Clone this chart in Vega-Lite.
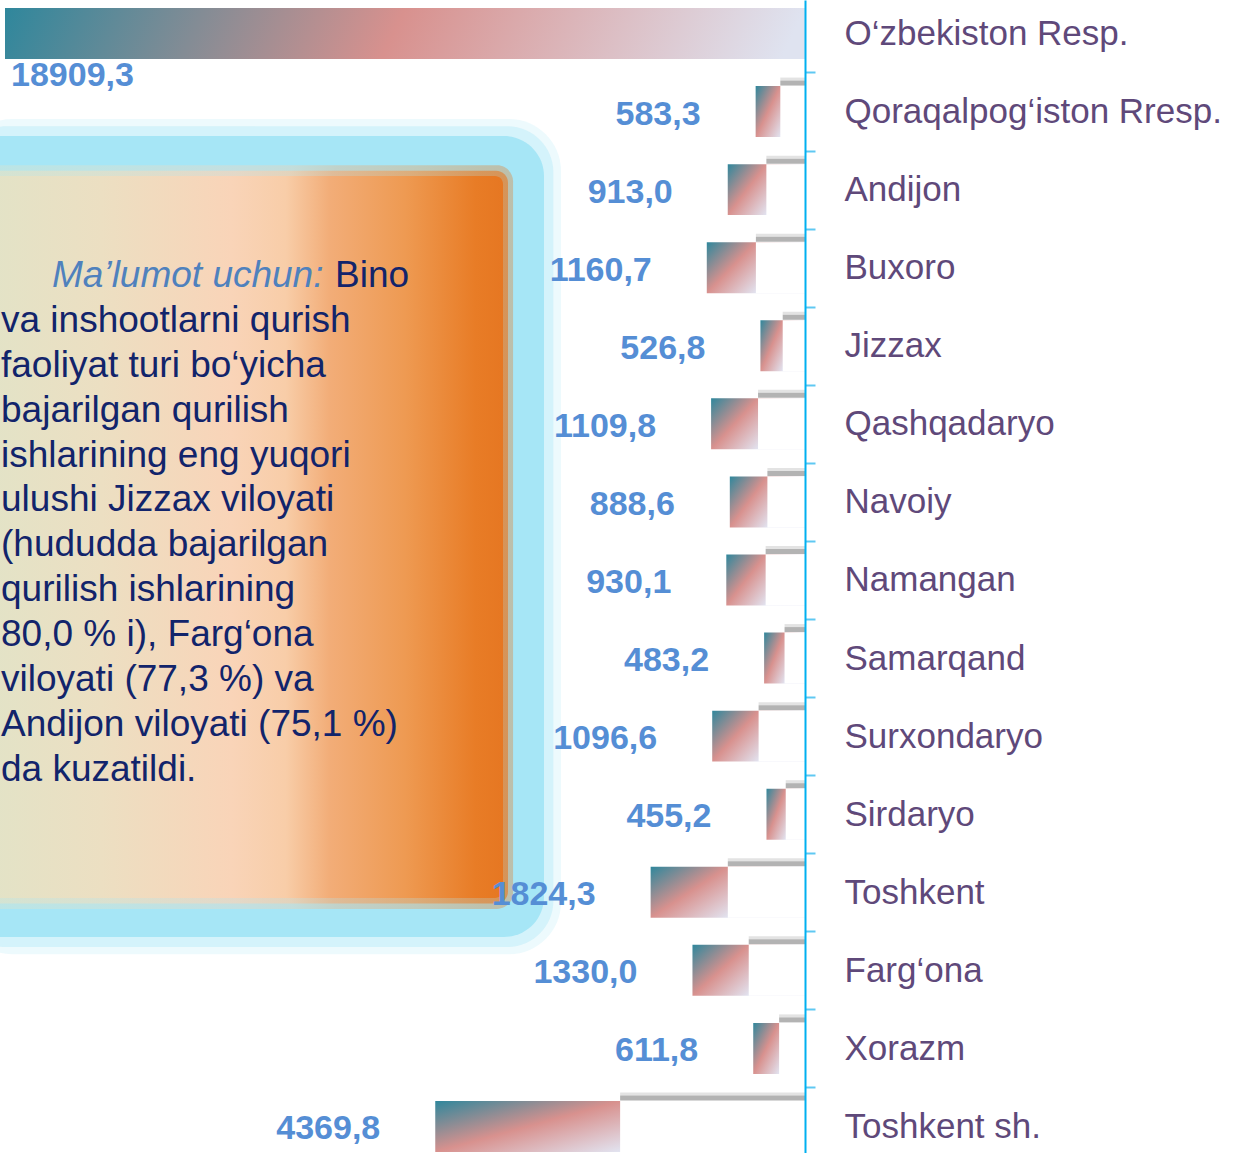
{
  "$schema": "https://vega.github.io/schema/vega-lite/v6.json",
  "width": 800,
  "height": 1153,
  "autosize": "none",
  "padding": {"left": 5, "right": 430, "top": 0, "bottom": 0},
  "background": "white",
  "config": {
    "view": {"stroke": null},
    "font": "Liberation Sans",
    "locale": {"number": {"decimal": ",", "thousands": " ", "grouping": [3], "currency": ["", ""]}}
  },
  "data": {
    "values": [
      {"region": "O‘zbekiston Resp.", "value": 18909.3, "level": "country"},
      {"region": "Qoraqalpog‘iston Rresp.", "value": 583.3, "level": "region"},
      {"region": "Andijon", "value": 913.0, "level": "region"},
      {"region": "Buxoro", "value": 1160.7, "level": "region"},
      {"region": "Jizzax", "value": 526.8, "level": "region"},
      {"region": "Qashqadaryo", "value": 1109.8, "level": "region"},
      {"region": "Navoiy", "value": 888.6, "level": "region"},
      {"region": "Namangan", "value": 930.1, "level": "region"},
      {"region": "Samarqand", "value": 483.2, "level": "region"},
      {"region": "Surxondaryo", "value": 1096.6, "level": "region"},
      {"region": "Sirdaryo", "value": 455.2, "level": "region"},
      {"region": "Toshkent", "value": 1824.3, "level": "region"},
      {"region": "Farg‘ona", "value": 1330.0, "level": "region"},
      {"region": "Xorazm", "value": 611.8, "level": "region"},
      {"region": "Toshkent sh.", "value": 4369.8, "level": "region"}
    ]
  },
  "layer": [
    {
      "layer": [
        {
          "data": {"values": [{}]},
          "mark": {"type": "rect", "fill": "#a6e6f6", "opacity": 0.2, "cornerRadius": 52},
          "encoding": {
            "x": {"datum": 19973, "type": "quantitative", "scale": {"domain": [0, 18909.3], "reverse": true, "nice": false, "zero": false}, "axis": null},
            "x2": {"datum": 5767},
            "y": {"datum": -3.45, "type": "quantitative", "scale": {"domain": [-6.1024, 19.577], "reverse": true, "nice": false, "zero": false}, "axis": null},
            "y2": {"datum": 15.15}
          }
        },
        {
          "data": {"values": [{}]},
          "mark": {"type": "rect", "fill": "#a6e6f6", "opacity": 0.35, "cornerRadius": 46},
          "encoding": {
            "x": {"datum": 19973, "type": "quantitative", "axis": null},
            "x2": {"datum": 5948},
            "y": {"datum": -3.29, "type": "quantitative", "axis": null},
            "y2": {"datum": 14.99}
          }
        },
        {
          "data": {"values": [{}]},
          "mark": {"type": "rect", "fill": "#a6e6f6", "opacity": 1, "cornerRadius": 40},
          "encoding": {
            "x": {"datum": 19973, "type": "quantitative", "axis": null},
            "x2": {"datum": 6169.2},
            "y": {"datum": -3.073, "type": "quantitative", "axis": null},
            "y2": {"datum": 14.766}
          }
        },
        {
          "data": {"values": [{}]},
          "mark": {
            "type": "rect", "opacity": 0.35, "cornerRadius": 16,
            "fill": {"gradient": "linear", "x1": 0, "y1": 0, "x2": 1, "y2": 0, "stops": [
              {"offset": 0, "color": "#e0e4c8"}, {"offset": 0.26, "color": "#ecdfc2"}, {"offset": 0.5, "color": "#f9d4b8"},
              {"offset": 0.6, "color": "#f8cda8"}, {"offset": 0.68, "color": "#f2ad78"}, {"offset": 0.82, "color": "#ee9a52"},
              {"offset": 0.95, "color": "#e87c26"}, {"offset": 1, "color": "#e67722"}]}
          },
          "encoding": {
            "x": {"datum": 19973, "type": "quantitative", "axis": null},
            "x2": {"datum": 6900},
            "y": {"datum": -2.42, "type": "quantitative", "axis": null},
            "y2": {"datum": 14.14}
          }
        },
        {
          "data": {"values": [{}]},
          "mark": {
            "type": "rect", "opacity": 0.6, "cornerRadius": 12,
            "fill": {"gradient": "linear", "x1": 0, "y1": 0, "x2": 1, "y2": 0, "stops": [
              {"offset": 0, "color": "#e0e4c8"}, {"offset": 0.26, "color": "#ecdfc2"}, {"offset": 0.5, "color": "#f9d4b8"},
              {"offset": 0.6, "color": "#f8cda8"}, {"offset": 0.68, "color": "#f2ad78"}, {"offset": 0.82, "color": "#ee9a52"},
              {"offset": 0.95, "color": "#e87c26"}, {"offset": 1, "color": "#e67722"}]}
          },
          "encoding": {
            "x": {"datum": 19973, "type": "quantitative", "axis": null},
            "x2": {"datum": 7020},
            "y": {"datum": -2.3, "type": "quantitative", "axis": null},
            "y2": {"datum": 14.02}
          }
        },
        {
          "data": {"values": [{}]},
          "mark": {
            "type": "rect", "cornerRadius": 8,
            "fill": {"gradient": "linear", "x1": 0, "y1": 0, "x2": 1, "y2": 0, "stops": [
              {"offset": 0, "color": "#e0e4c8"}, {"offset": 0.26, "color": "#ecdfc2"}, {"offset": 0.5, "color": "#f9d4b8"},
              {"offset": 0.6, "color": "#f8cda8"}, {"offset": 0.68, "color": "#f2ad78"}, {"offset": 0.82, "color": "#ee9a52"},
              {"offset": 0.95, "color": "#e87c26"}, {"offset": 1, "color": "#e67722"}]}
          },
          "encoding": {
            "x": {"datum": 19973, "type": "quantitative", "axis": null},
            "x2": {"datum": 7138.3},
            "y": {"datum": -2.183, "type": "quantitative", "axis": null},
            "y2": {"datum": 13.898}
          }
        },
        {
          "data": {"values": [{}]},
          "mark": {"type": "text", "text": "Ma’lumot uchun:", "align": "left", "baseline": "middle", "fontSize": 37, "fontStyle": "italic", "color": "#4f81bd", "font": "Liberation Sans"},
          "encoding": {
            "x": {"datum": 17798, "type": "quantitative", "axis": null},
            "y": {"datum": 0.04, "type": "quantitative", "axis": null}
          }
        },
        {
          "data": {"values": [{}]},
          "mark": {"type": "text", "text": "Bino", "align": "left", "baseline": "middle", "fontSize": 37, "color": "#12246b", "font": "Liberation Sans"},
          "encoding": {
            "x": {"datum": 11109, "type": "quantitative", "axis": null},
            "y": {"datum": 0.04, "type": "quantitative", "axis": null}
          }
        },
        {
          "data": {"values": [
            {"k": 1, "t": "va inshootlarni qurish"},
            {"k": 2, "t": "faoliyat turi bo‘yicha"},
            {"k": 3, "t": "bajarilgan qurilish"},
            {"k": 4, "t": "ishlarining eng yuqori"},
            {"k": 5, "t": "ulushi Jizzax viloyati"},
            {"k": 6, "t": "(hududda bajarilgan"},
            {"k": 7, "t": "qurilish ishlarining"},
            {"k": 8, "t": "80,0 % i), Farg‘ona"},
            {"k": 9, "t": "viloyati (77,3 %) va"},
            {"k": 10, "t": "Andijon viloyati (75,1 %)"},
            {"k": 11, "t": "da kuzatildi."}
          ]},
          "mark": {"type": "text", "align": "left", "baseline": "middle", "dy": 2, "fontSize": 37, "color": "#12246b", "font": "Liberation Sans"},
          "encoding": {
            "x": {"datum": 19003.8, "type": "quantitative", "axis": null},
            "y": {"field": "k", "type": "quantitative", "axis": null},
            "text": {"field": "t", "type": "nominal"}
          }
        }
      ]
    },
    {
      "transform": [{"filter": "datum.level === 'region'"}],
      "encoding": {
        "y": {"field": "region", "type": "nominal",
          "scale": {"type": "band", "domain": ["O‘zbekiston Resp.", "Qoraqalpog‘iston Rresp.", "Andijon", "Buxoro", "Jizzax", "Qashqadaryo", "Navoiy", "Namangan", "Samarqand", "Surxondaryo", "Sirdaryo", "Toshkent", "Farg‘ona", "Xorazm", "Toshkent sh."], "paddingInner": 0.347, "paddingOuter": 0.058, "align": 0.884},
          "axis": {"orient": "right", "title": null, "domainColor": "#00b0f0", "domainWidth": 2, "tickColor": "#5fc8f2", "tickWidth": 2, "tickSize": 10, "tickOffset": 39, "labelOffset": -39, "labelFontSize": 35, "labelColor": "#5f497a", "labelPadding": 29, "labelLimit": 0, "labelFont": "Liberation Sans", "labelBaseline": "middle", "labelAlign": "left", "grid": false, "zindex": 1, "labelOverlap": false}},
        "x": {"field": "value", "type": "quantitative", "axis": null, "scale": {"domain": [0, 9454.65], "reverse": true, "nice": false, "zero": true}}
      },
      "layer": [
        {
          "mark": {"type": "bar", "fill": {"gradient": "linear", "x1": 0, "y1": 0, "x2": 0.8, "y2": 0.4, "stops": [
            {"offset": 0, "color": "#2f879c"}, {"offset": 0.5, "color": "#d8918e"}, {"offset": 1, "color": "#e2e4f1"}]}}
        },
        {
          "mark": {"type": "text", "align": "right", "baseline": "alphabetic", "dx": -55, "dy": 13, "fontSize": 34, "fontWeight": "bold", "color": "#558ed5", "font": "Liberation Sans"},
          "encoding": {"text": {"field": "value", "type": "quantitative", "format": ".1f"}}
        }
      ]
    },
    {
      "layer": [
        {
          "transform": [{"filter": "datum.level === 'region'"}],
          "mark": {"type": "rule", "stroke": "#c8c8c8", "strokeWidth": 3, "opacity": 0.5, "yOffset": -7},
          "encoding": {
            "y": {"field": "region", "type": "nominal", "bandPosition": 0, "axis": null,
              "scale": {"type": "band", "domain": ["O‘zbekiston Resp.", "Qoraqalpog‘iston Rresp.", "Andijon", "Buxoro", "Jizzax", "Qashqadaryo", "Navoiy", "Namangan", "Samarqand", "Surxondaryo", "Sirdaryo", "Toshkent", "Farg‘ona", "Xorazm", "Toshkent sh."], "paddingInner": 0.347, "paddingOuter": 0.058, "align": 0.884}},
            "x": {"field": "value", "type": "quantitative", "axis": null, "scale": {"domain": [0, 18909.3], "reverse": true, "nice": false, "zero": true}},
            "x2": {"datum": 0}
          }
        },
        {
          "transform": [{"filter": "datum.level === 'region'"}],
          "mark": {"type": "rule", "stroke": "#9a9a9a", "strokeWidth": 5, "opacity": 0.75, "yOffset": -3},
          "encoding": {
            "y": {"field": "region", "type": "nominal", "bandPosition": 0, "axis": null},
            "x": {"field": "value", "type": "quantitative", "axis": null},
            "x2": {"datum": 0}
          }
        },
        {
          "transform": [{"filter": "datum.level === 'region'"}],
          "mark": {"type": "bar", "fill": "#ffffff"},
          "encoding": {
            "y": {"field": "region", "type": "nominal", "axis": null},
            "x": {"field": "value", "type": "quantitative", "axis": null}
          }
        },
        {
          "transform": [{"filter": "datum.level === 'country'"}],
          "mark": {"type": "bar", "fill": {"gradient": "linear", "x1": 0, "y1": 0, "x2": 1, "y2": 0.03, "stops": [
            {"offset": 0, "color": "#2f879c"}, {"offset": 0.5, "color": "#d8918e"}, {"offset": 1, "color": "#dfe3f0"}]}},
          "encoding": {
            "y": {"field": "region", "type": "nominal", "axis": null},
            "x": {"field": "value", "type": "quantitative", "axis": null}
          }
        },
        {
          "transform": [{"filter": "datum.level === 'country'"}],
          "mark": {"type": "text", "align": "left", "baseline": "alphabetic", "dx": 6, "dy": 52.5, "fontSize": 34, "fontWeight": "bold", "color": "#558ed5", "font": "Liberation Sans"},
          "encoding": {
            "y": {"field": "region", "type": "nominal", "axis": null},
            "x": {"field": "value", "type": "quantitative", "axis": null},
            "text": {"field": "value", "type": "quantitative", "format": ".1f"}
          }
        }
      ]
    }
  ],
  "resolve": {"scale": {"x": "independent", "y": "independent"}}
}
